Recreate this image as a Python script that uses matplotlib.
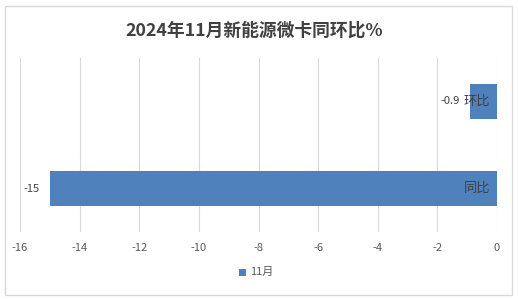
import matplotlib
matplotlib.use("Agg")
import matplotlib.pyplot as plt
from matplotlib.patches import Rectangle

plt.rcParams['font.family'] = ['Noto Sans CJK SC', 'DejaVu Sans']

categories = ["环比", "同比"]
values = [-0.9, -15]
series_name = "11月"
title = "2024年11月新能源微卡同环比%"
xticks = [-16, -14, -12, -10, -8, -6, -4, -2, 0]

W, H = 518, 300
fig = plt.figure(figsize=(W / 100, H / 100), dpi=100)
fig.patch.set_facecolor("white")

# outer border
fig.add_artist(Rectangle((5 / W, 5 / H), 507 / W, 289 / H, transform=fig.transFigure,
                         fill=False, edgecolor="#d9d9d9", linewidth=1))

ax = fig.add_axes([20 / W, 1 - 232 / H, 477 / W, 174 / H])
ypos = list(range(len(categories)))
bar_color = "#4f81bd"
ax.barh(ypos, values, height=0.41, color=bar_color, zorder=3)
ax.set_xlim(-16, 0)
ax.set_ylim(len(categories) - 0.5, -0.5)
ax.set_xticks(xticks)
ax.set_xticklabels([str(t) for t in xticks], fontsize=8, color="#595959")
ax.set_yticks([])
ax.tick_params(axis="x", length=0, pad=8)
for s in ax.spines.values():
    s.set_visible(False)
ax.grid(axis="x", color="#d9d9d9", linewidth=0.8, zorder=0)

for y, v, c in zip(ypos, values, categories):
    ax.text(v - 0.35, y, f"{v:g}", ha="right", va="center", fontsize=8, color="#404040", zorder=4)
    ax.text(-0.22, y, c, ha="right", va="center", fontsize=9.5, color="#404040", zorder=4)

fig.text(254 / W, 1 - 31 / H, title, ha="center", va="center", fontsize=12.8,
         fontweight="bold", color="#404040")

# legend
fig.add_artist(Rectangle((239 / W, 1 - 276 / H), 7 / W, 7 / H, transform=fig.transFigure,
                         facecolor=bar_color, edgecolor="none"))
fig.text(250 / W, 1 - 272 / H, series_name, ha="left", va="center", fontsize=8, color="#595959")

fig.savefig("out.png", dpi=100)
